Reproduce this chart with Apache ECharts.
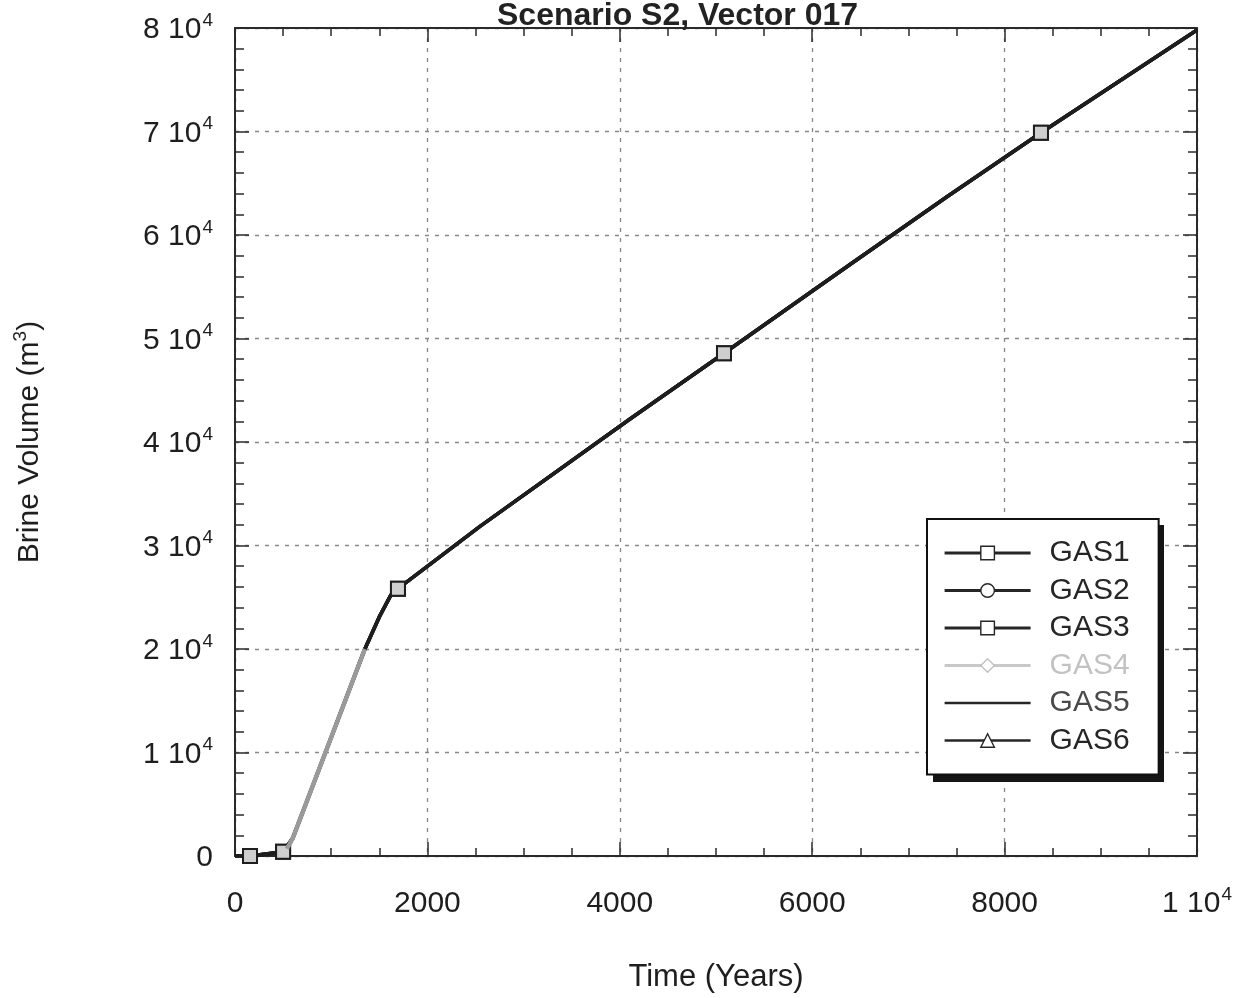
<!DOCTYPE html>
<html>
<head>
<meta charset="utf-8">
<script src="https://cdn.jsdelivr.net/npm/echarts@6/dist/echarts.min.js"></script>
<style>
html,body{margin:0;padding:0;background:#fff;}
#chart{width:1245px;height:998px;}
</style>
</head>
<body>
<div id="chart"></div>
<script>
// ---- data ----
const titleText = 'Scenario S2, Vector 017';
const seriesNames = ['GAS1', 'GAS2', 'GAS3', 'GAS4', 'GAS5', 'GAS6'];
// shared brine volume curve (all scenarios overlap)
const timeYears   = [0, 156, 500, 600, 1350, 1500, 1620, 1694, 2547, 4106, 5083, 6393, 7401, 8378, 10000];
const brineVolume = [0, 0, 400, 1700, 20000, 23100, 25200, 25831, 31850, 42217, 48578, 57157, 63700, 69880, 79800];
// indices of points that carry a marker
const markerIdx = [1, 2, 7, 10, 13];
// GAS4 visible (grey) segment
const gas4Time   = [540, 600, 1350];
const gas4Volume = [700, 1700, 20000];
// tick labels: [base, superscript]
const xTickLabels = { 0: ['0', ''], 2000: ['2000', ''], 4000: ['4000', ''], 6000: ['6000', ''], 8000: ['8000', ''], 10000: ['1 10', '4'] };
const yTickLabels = { 0: ['0', ''], 10000: ['1 10', '4'], 20000: ['2 10', '4'], 30000: ['3 10', '4'], 40000: ['4 10', '4'],
                      50000: ['5 10', '4'], 60000: ['6 10', '4'], 70000: ['7 10', '4'], 80000: ['8 10', '4'] };

const FONT = 'Liberation Sans, Arial, Helvetica, sans-serif';
const TXT = '#1e1e1e';

function fmt(map) {
  return function (v) {
    const p = map[v];
    if (!p) return '';
    return p[1] ? '{n|' + p[0] + '}{s|' + p[1] + '}' : '{n|' + p[0] + '}';
  };
}
const richLbl = {
  n: { fontSize: 30, fontFamily: FONT, color: TXT, lineHeight: 34, verticalAlign: 'bottom' },
  s: { fontSize: 19, fontFamily: FONT, color: TXT, lineHeight: 34, verticalAlign: 'top', padding: [0, 0, 0, 1] }
};

function curveData(withMarkers) {
  return timeYears.map((t, i) => {
    const item = { value: [t, brineVolume[i]] };
    if (!withMarkers || markerIdx.indexOf(i) < 0) item.symbol = 'none';
    return item;
  });
}

const axisLineStyle = { color: '#2a2a2a', width: 2 };
const tickStyle = { color: '#2a2a2a', width: 1.5 };
const gridStyle = { color: '#888', width: 1.3, type: [4, 6] };

function xAxisCfg(pos, main) {
  return {
    type: 'value', position: pos, min: 0, max: 10000, interval: 2000,
    axisLine: { show: true, onZero: false, lineStyle: axisLineStyle },
    axisTick: { show: true, inside: true, length: 14, lineStyle: tickStyle },
    minorTick: { show: true, splitNumber: 4, length: 8, lineStyle: tickStyle },
    splitLine: { show: main, lineStyle: gridStyle },
    axisLabel: main ? { show: true, margin: 29, formatter: fmt(xTickLabels), rich: richLbl } : { show: false },
    name: main ? 'Time (Years)' : '',
    nameLocation: 'middle', nameGap: 106,
    nameTextStyle: { fontSize: 31, fontFamily: FONT, color: TXT }
  };
}
function yAxisCfg(pos, main) {
  return {
    type: 'value', position: pos, min: 0, max: 80000, interval: 10000,
    axisLine: { show: true, onZero: false, lineStyle: axisLineStyle },
    axisTick: { show: true, inside: true, length: 14, lineStyle: tickStyle },
    minorTick: { show: true, splitNumber: 5, length: 9, lineStyle: tickStyle },
    splitLine: { show: main, lineStyle: gridStyle },
    axisLabel: main ? { show: true, margin: 22, formatter: fmt(yTickLabels), rich: richLbl } : { show: false },
    name: main ? '{n|Brine Volume (m}{s|3}{n|)}' : '',
    nameLocation: 'middle', nameGap: 190, nameRotate: 90,
    nameTextStyle: { rich: {
      n: { fontSize: 30, fontFamily: FONT, color: TXT, lineHeight: 34, verticalAlign: 'bottom' },
      s: { fontSize: 19, fontFamily: FONT, color: TXT, lineHeight: 34, verticalAlign: 'top' }
    } }
  };
}

const seriesStyle = {
  GAS1: { line: '#151515', w: 3.6, sym: 'rect', markers: true },
  GAS2: { line: '#1e1e1e', w: 3.6, sym: 'circle', markers: false },
  GAS3: { line: '#1e1e1e', w: 3.6, sym: 'rect', markers: true },
  GAS4: { line: '#9a9a9a', w: 4.5, sym: 'diamond', markers: false },
  GAS5: { line: '#1e1e1e', w: 2.5, sym: 'none', markers: false },
  GAS6: { line: '#1e1e1e', w: 3, sym: 'triangle', markers: false }
};

const series = seriesNames.map(name => {
  const st = seriesStyle[name];
  const data = name === 'GAS4'
    ? gas4Time.map((t, i) => ({ value: [t, gas4Volume[i]], symbol: 'none' }))
    : curveData(st.markers);
  return {
    name: name, type: 'line', data: data,
    symbol: st.sym, symbolSize: 14, showSymbol: true,
    z: name === 'GAS4' ? 5 : 3,
    lineStyle: { color: st.line, width: st.w, join: 'round' },
    itemStyle: { color: '#cfcfcf', borderColor: '#1e1e1e', borderWidth: 2 },
    emphasis: { disabled: true },
    animation: false
  };
});

const legendData = seriesNames.map(name => {
  const item = {
    name: name,
    textStyle: { color: '#262626' },
    lineStyle: { color: '#262626', width: 3.2 },
    itemStyle: { color: '#fff', borderColor: '#262626', borderWidth: 1.4 }
  };
  if (name === 'GAS4') {
    item.textStyle = { color: '#c2c2c2' };
    item.lineStyle = { color: '#c8c8c8', width: 3.2 };
    item.itemStyle = { color: '#fff', borderColor: '#c0c0c0', borderWidth: 1.4 };
  } else if (name === 'GAS5') {
    item.textStyle = { color: '#4a4a4a', fontWeight: 'lighter' };
    item.lineStyle = { color: '#262626', width: 2.4 };
    item.itemStyle = { color: 'rgba(0,0,0,0)', borderColor: 'rgba(0,0,0,0)', borderWidth: 0 };
  } else if (name === 'GAS6') {
    item.lineStyle = { color: '#262626', width: 2.6 };
  }
  return item;
});

const option = {
  backgroundColor: '#fff',
  animation: false,
  title: {
    text: titleText, left: 497, top: 0, padding: 0,
    textStyle: { fontSize: 32, fontWeight: 'bold', fontFamily: FONT, color: '#222' }
  },
  grid: { left: 235, right: 48, top: 28, bottom: 140, containLabel: false },
  graphic: [{
    type: 'rect', z: 1, silent: true,
    shape: { x: 933, y: 525, width: 231, height: 257 },
    style: { fill: '#151515' }
  }],
  legend: {
    orient: 'vertical', left: 927, top: 519, z: 10,
    padding: [19, 29, 19, 16], itemGap: 7.5,
    itemWidth: 86, itemHeight: 17,
    backgroundColor: '#fff', borderColor: '#111', borderWidth: 2,
    textStyle: { fontSize: 30, fontFamily: FONT, color: '#262626', lineHeight: 30, padding: [0, 0, 0, 14] },
    selectedMode: false,
    data: legendData
  },
  xAxis: [xAxisCfg('bottom', true), xAxisCfg('top', false)],
  yAxis: [yAxisCfg('left', true), yAxisCfg('right', false)],
  series: series
};

const chart = echarts.init(document.getElementById('chart'), null, { renderer: 'canvas' });
chart.setOption(option);
</script>
</body>
</html>
